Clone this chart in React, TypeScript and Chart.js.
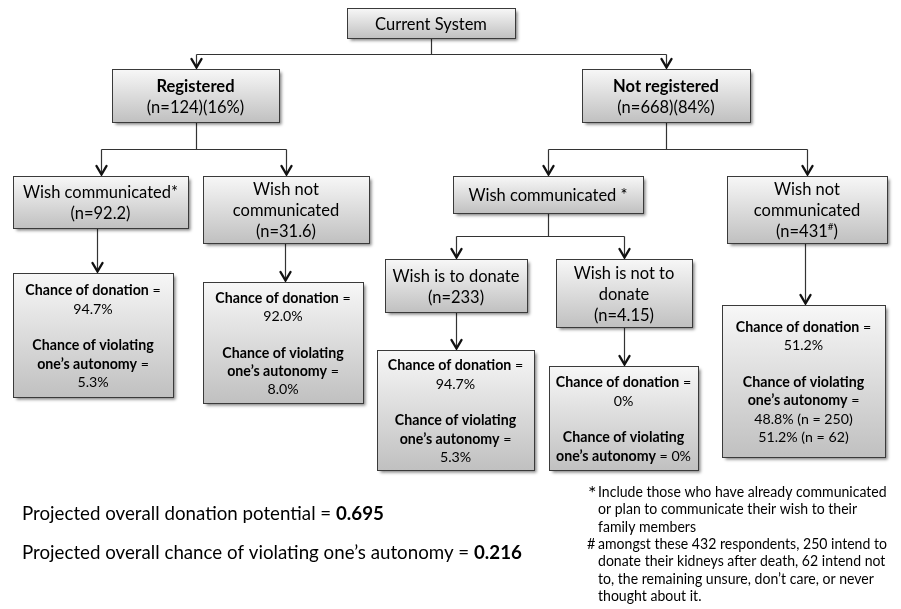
import React, { useEffect, useRef } from "react";
import { Chart, registerables } from "chart.js";

Chart.register(...registerables);

// ---------- data ----------
const ROOT_LABEL = "Current System";
const GROUP_LABELS = ["Registered", "Not registered"];
const GROUP_N = ["124", "668"];
const GROUP_PCT = ["16%", "84%"];
const REG_N = ["92.2", "31.6"]; // wish communicated / not communicated (registered)
const NOTREG_N = ["431"]; // wish not communicated (not registered)
const WISH_N = ["233", "4.15"]; // wish to donate / not to donate
const DONATION_CHANCE = ["94.7%", "92.0%", "94.7%", "0%", "51.2%"];
const VIOLATION_CHANCE = ["5.3%", "8.0%", "5.3%", "0%", "48.8% (n = 250)"];
const VIOLATION_EXTRA = ["51.2% (n = 62)"];
const OVERALL_DONATION = "0.695";
const OVERALL_VIOLATION = "0.216";
const FOOTNOTE_MARKS = ["*", "#"];
const FOOTNOTES = [
  ["Include those who have already communicated", "or plan to communicate their wish to their", "family members"],
  ["amongst these 432 respondents, 250 intend to", "donate their kidneys after death, 62 intend not", "to, the remaining unsure, don\u2019t care, or never", "thought about it."],
];

// node texts (** = bold, ^ = superscript)
const resultText = (i: number, inlineViolation = false, extra: string[] = []) => {
  const base = ["**Chance of donation** =", DONATION_CHANCE[i], "", "**Chance of violating**"];
  if (inlineViolation) return [...base, "**one\u2019s autonomy** = " + VIOLATION_CHANCE[i]];
  return [...base, "**one\u2019s autonomy** =", VIOLATION_CHANCE[i], ...extra];
};

const NODE_TEXT: string[][] = [
  [ROOT_LABEL],
  ["**" + GROUP_LABELS[0] + "**", `(n=${GROUP_N[0]})(${GROUP_PCT[0]})`],
  ["**" + GROUP_LABELS[1] + "**", `(n=${GROUP_N[1]})(${GROUP_PCT[1]})`],
  ["Wish communicated*", `(n=${REG_N[0]})`],
  ["Wish not", "communicated", `(n=${REG_N[1]})`],
  ["Wish communicated *"],
  ["Wish not", "communicated", `(n=${NOTREG_N[0]}^#^)`],
  ["Wish is to donate", `(n=${WISH_N[0]})`],
  ["Wish is not to", "donate", `(n=${WISH_N[1]})`],
  resultText(0),
  resultText(1),
  resultText(2),
  resultText(3, true),
  resultText(4, false, VIOLATION_EXTRA),
];
const NODE_PARENT = [-1, 0, 0, 1, 1, 2, 2, 5, 5, 3, 4, 7, 8, 6];

// ---------- layout (in page pixels, mapped through the chart scales) ----------
const NODE_BOX: number[][] = [
  [347, 8, 515, 38],
  [112, 69, 279, 122],
  [582, 69, 750, 122],
  [13, 176, 188, 228],
  [203, 176, 369, 243],
  [453, 176, 643, 213],
  [727, 176, 887, 243],
  [385, 259, 527, 312],
  [556, 259, 692, 327],
  [13, 273, 173, 397],
  [203, 282, 363, 403],
  [377, 350, 534, 470],
  [549, 366, 698, 470],
  [722, 305, 885, 457],
];

const FONT = "Lato, 'Open Sans', sans-serif";

type Seg = { t: string; b: boolean; sup: boolean };
function parseLine(line: string, baseBold: boolean): Seg[] {
  const segs: Seg[] = [];
  let bold = baseBold;
  let sup = false;
  let cur = "";
  for (let i = 0; i < line.length; i++) {
    if (line[i] === "*" && line[i + 1] === "*") {
      if (cur) segs.push({ t: cur, b: bold, sup });
      cur = "";
      bold = !bold;
      i++;
    } else if (line[i] === "^") {
      if (cur) segs.push({ t: cur, b: bold, sup });
      cur = "";
      sup = !sup;
    } else cur += line[i];
  }
  if (cur) segs.push({ t: cur, b: bold, sup });
  return segs;
}

function drawRich(ctx: CanvasRenderingContext2D, line: string, cx: number, cy: number, size: number, align: "center" | "left", sx = 1) {
  const segs = parseLine(line, false);
  const fontOf = (s: Seg) => `${s.b ? "bold " : ""}${s.sup ? size * 0.6 : size}px ${FONT}`;
  let total = 0;
  const widths = segs.map((s) => {
    ctx.font = fontOf(s);
    const w = ctx.measureText(s.t).width;
    total += w;
    return w;
  });
  ctx.save();
  ctx.translate(cx, cy);
  ctx.scale(sx, 1);
  let x = align === "center" ? -total / 2 : 0;
  ctx.textBaseline = "middle";
  ctx.textAlign = "left";
  segs.forEach((s, i) => {
    ctx.font = fontOf(s);
    ctx.fillText(s.t, x, s.sup ? -size * 0.3 : 0);
    x += widths[i];
  });
  ctx.restore();
}

function arrowHead(ctx: CanvasRenderingContext2D, x: number, y: number) {
  ctx.save();
  ctx.strokeStyle = "#111";
  ctx.lineWidth = 2.4;
  ctx.lineCap = "round";
  ctx.beginPath();
  ctx.moveTo(x - 5, y - 10);
  ctx.lineTo(x, y - 1.5);
  ctx.lineTo(x + 5, y - 10);
  ctx.stroke();
  ctx.restore();
}

const flowPlugin = {
  id: "flow",
  afterDraw(chart: any) {
    const ctx: CanvasRenderingContext2D = chart.ctx;
    const xs = chart.scales.x;
    const ys = chart.scales.y;
    const px = (v: number) => xs.getPixelForValue(v);
    const py = (v: number) => ys.getPixelForValue(v);
    const box = (i: number) => {
      const [a, b, c, d] = NODE_BOX[i];
      return { x0: px(a), y0: py(b), x1: px(c), y1: py(d), cx: (px(a) + px(c)) / 2 };
    };

    // connectors
    ctx.save();
    ctx.strokeStyle = "#333";
    ctx.lineWidth = 1.2;
    const children: Record<number, number[]> = {};
    NODE_PARENT.forEach((p, i) => {
      if (p >= 0) (children[p] = children[p] || []).push(i);
    });
    Object.keys(children).forEach((k) => {
      const p = Number(k);
      const kids = children[p];
      const pb = box(p);
      if (kids.length === 1) {
        const cb = box(kids[0]);
        const x = Math.round((pb.cx + cb.cx) / 2) + 0.5;
        ctx.beginPath();
        ctx.moveTo(x, pb.y1);
        ctx.lineTo(x, cb.y0 - 1);
        ctx.stroke();
        arrowHead(ctx, x, cb.y0);
      } else {
        const top = Math.min(...kids.map((c) => box(c).y0));
        const busY = Math.round((pb.y1 + top) / 2) + 0.5;
        const cxs = kids.map((c) => Math.round(box(c).cx) + 0.5);
        const sx = Math.round(pb.cx) + 0.5;
        ctx.beginPath();
        ctx.moveTo(sx, pb.y1);
        ctx.lineTo(sx, busY);
        ctx.moveTo(Math.min(...cxs), busY);
        ctx.lineTo(Math.max(...cxs), busY);
        kids.forEach((c, j) => {
          ctx.moveTo(cxs[j], busY);
          ctx.lineTo(cxs[j], box(c).y0 - 1);
        });
        ctx.stroke();
        kids.forEach((c, j) => arrowHead(ctx, cxs[j], box(c).y0));
      }
    });
    ctx.restore();

    // boxes
    NODE_BOX.forEach((_, i) => {
      const b = box(i);
      const x0 = Math.round(b.x0) + 0.5;
      const y0 = Math.round(b.y0) + 0.5;
      const w = Math.round(b.x1 - b.x0);
      const h = Math.round(b.y1 - b.y0);
      ctx.save();
      const g = ctx.createLinearGradient(0, y0, 0, y0 + h);
      g.addColorStop(0, "#f7f7f7");
      g.addColorStop(1, "#c0c0c0");
      ctx.shadowColor = "rgba(0,0,0,0.5)";
      ctx.shadowOffsetX = 2;
      ctx.shadowOffsetY = 2;
      ctx.shadowBlur = 3;
      ctx.fillStyle = g;
      ctx.fillRect(x0, y0, w, h);
      ctx.restore();
      ctx.save();
      ctx.strokeStyle = "#3a3a3a";
      ctx.lineWidth = 1;
      ctx.strokeRect(x0, y0, w, h);
      ctx.restore();

      const lines = NODE_TEXT[i];
      const isResult = i >= 9;
      const lh = isResult ? 18.3 : 21;
      const size = isResult ? 14.2 : 16.5;
      const cy = (b.y0 + b.y1) / 2 + 1.5;
      ctx.fillStyle = "#000";
      lines.forEach((ln, j) => {
        if (!ln) return;
        const y = cy + (j - (lines.length - 1) / 2) * lh;
        drawRich(ctx, ln, b.cx, y, size, "center");
      });
    });

    // summary lines
    ctx.fillStyle = "#000";
    drawRich(ctx, `Projected overall donation potential = **${OVERALL_DONATION}**`, px(22), py(514), 19, "left", 0.985);
    drawRich(ctx, `Projected overall chance of violating one\u2019s autonomy = **${OVERALL_VIOLATION}**`, px(22), py(553), 19, "left", 0.985);

    // footnotes
    const noteY = [492, 544];
    FOOTNOTES.forEach((note, n) => {
      if (n === 0) drawRich(ctx, FOOTNOTE_MARKS[n], px(588), py(noteY[n] + 2), 20, "left", 1);
      else drawRich(ctx, FOOTNOTE_MARKS[n], px(587), py(noteY[n]), 14.5, "left", 1);
      note.forEach((ln, j) => {
        drawRich(ctx, ln, px(598), py(noteY[n] + j * 17.5), 14.5, "left", 0.97);
      });
    });
  },
};

export default function App() {
  const ref = useRef<HTMLCanvasElement | null>(null);
  useEffect(() => {
    document.body.style.margin = "0";
    if (!ref.current) return;
    const chart = new Chart(ref.current, {
      type: "scatter",
      data: {
        datasets: [
          {
            data: NODE_BOX.map((_, i) => ({ x: 0, y: 0, i })) as any,
            pointRadius: 0,
            showLine: false,
          },
        ],
      },
      options: {
        animation: false,
        responsive: false,
        maintainAspectRatio: false,
        layout: { padding: 0 },
        events: [],
        plugins: { legend: { display: false }, tooltip: { enabled: false } },
        scales: {
          x: { type: "linear", min: 0, max: 901, display: false },
          y: { type: "linear", min: 0, max: 609, reverse: true, display: false },
        },
      },
      plugins: [flowPlugin],
    });
    return () => chart.destroy();
  }, []);
  return (
    <div style={{ position: "fixed", left: 0, top: 0, width: 901, height: 609, background: "#fff" }}>
      <canvas ref={ref} width={901} height={609} style={{ width: 901, height: 609 }} />
    </div>
  );
}
